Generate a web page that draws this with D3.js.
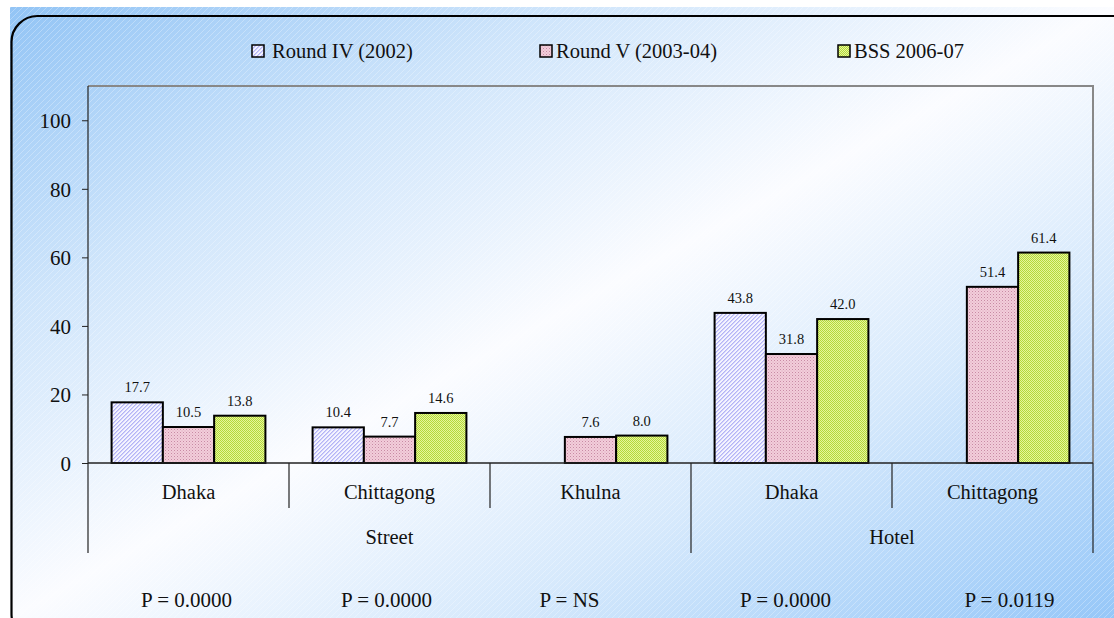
<!DOCTYPE html>
<html>
<head>
<meta charset="utf-8">
<script src="https://cdn.jsdelivr.net/npm/d3@7"></script>
<style>
  html, body { margin: 0; padding: 0; background: #ffffff; }
  svg { display: block; }
</style>
</head>
<body>
<svg id="chart" width="1114" height="618"></svg>
<script>
// ---------- data ----------
const cities = ["Dhaka", "Chittagong", "Khulna", "Dhaka", "Chittagong"];
const venues = ["Street", "Street", "Street", "Hotel", "Hotel"];
const seriesNames = ["Round IV (2002)", "Round V (2003-04)", "BSS 2006-07"];
const roundIV = [17.7, 10.4, null, 43.8, null];
const roundV = [10.5, 7.7, 7.6, 31.8, 51.4];
const bss = [13.8, 14.6, 8.0, 42.0, 61.4];
const pValues = ["P = 0.0000", "P = 0.0000", "P = NS", "P = 0.0000", "P = 0.0119"];
const yTicks = [0, 20, 40, 60, 80, 100];

// ---------- layout ----------
const W = 1114, H = 618;
const plot = { left: 88, right: 1093, top: 86, bottom: 463 };
const pLabelShift = [-2, -3, -21, -6, 17];
const SERIF = "Liberation Serif";

const svg = d3.select("#chart").attr("font-family", SERIF);
const defs = svg.append("defs");

// background gradient
const grad = defs.append("linearGradient").attr("id", "bg")
  .attr("x1", 0).attr("y1", 0).attr("x2", 1).attr("y2", 1);
grad.append("stop").attr("offset", 0).attr("stop-color", "#92c4f5");
grad.append("stop").attr("offset", 0.25).attr("stop-color", "#cfe5fb");
grad.append("stop").attr("offset", 0.5).attr("stop-color", "#fbfcff");
grad.append("stop").attr("offset", 0.72).attr("stop-color", "#d6e9fc");
grad.append("stop").attr("offset", 1).attr("stop-color", "#96c7f8");

// diagonal stripe texture
const st = defs.append("pattern").attr("id", "stripes").attr("patternUnits", "userSpaceOnUse")
  .attr("width", 6).attr("height", 6);
st.append("path").attr("d", "M0,6 L6,0 M-1,1 L1,-1 M5,7 L7,5")
  .attr("stroke", "#ffffff").attr("stroke-width", 0.8).attr("opacity", 0.35);

// bar patterns
const p1 = defs.append("pattern").attr("id", "pat0").attr("patternUnits", "userSpaceOnUse")
  .attr("width", 4).attr("height", 4);
p1.append("rect").attr("width", 4).attr("height", 4).attr("fill", "#f4f4ff");
[[0,3],[1,2],[2,1],[3,0],[1,3],[2,2],[3,1],[0,0]].forEach(([x, y], k) =>
  p1.append("rect").attr("x", x).attr("y", y).attr("width", 1).attr("height", 1)
    .attr("fill", k < 4 ? "#b4b4f6" : "#d0d0fa"));

const p2 = defs.append("pattern").attr("id", "pat1").attr("patternUnits", "userSpaceOnUse")
  .attr("width", 3).attr("height", 3);
p2.append("rect").attr("width", 3).attr("height", 3).attr("fill", "#f2cdda");
p2.append("rect").attr("x", 0).attr("y", 0).attr("width", 1).attr("height", 1).attr("fill", "#c88aa4");
p2.append("rect").attr("x", 1.5).attr("y", 1.5).attr("width", 1).attr("height", 1).attr("fill", "#dca6bc");

const p3 = defs.append("pattern").attr("id", "pat2").attr("patternUnits", "userSpaceOnUse")
  .attr("width", 2).attr("height", 2);
p3.append("rect").attr("width", 2).attr("height", 2).attr("fill", "#e6f79a");
p3.append("rect").attr("x", 0).attr("y", 0).attr("width", 1).attr("height", 1).attr("fill", "#b4d83c");
p3.append("rect").attr("x", 1).attr("y", 1).attr("width", 1).attr("height", 1).attr("fill", "#b4d83c");

// background + frame
svg.append("rect").attr("x", 10).attr("y", 7).attr("width", W - 10).attr("height", H - 7).attr("fill", "url(#bg)");
svg.append("rect").attr("x", 10).attr("y", 7).attr("width", W - 10).attr("height", H - 7).attr("fill", "url(#stripes)");
svg.append("rect").attr("x", 11.5).attr("y", 16).attr("width", 1130).attr("height", 624).attr("rx", 26)
  .attr("fill", "none").attr("stroke", "#000").attr("stroke-width", 2.2);

// ---------- scales ----------
const idx = d3.range(cities.length);
const x0 = d3.scaleBand().domain(idx).range([plot.left, plot.right]).paddingInner(0).paddingOuter(0);
const x1 = d3.scaleBand().domain(d3.range(seriesNames.length)).range([0, x0.bandwidth()])
  .paddingInner(0).paddingOuter(0.46);
const y = d3.scaleLinear().domain([0, 110]).range([plot.bottom, plot.top]);

// plot border (gray)
svg.append("path")
  .attr("d", `M${plot.left},${plot.top}H${plot.right}V${plot.bottom}`)
  .attr("fill", "none").attr("stroke", "#888").attr("stroke-width", 2);

// y axis
const yAxis = d3.axisLeft(y).tickValues(yTicks).tickSize(6).tickPadding(11).tickFormat(d3.format("d"));
const gy = svg.append("g").attr("transform", `translate(${plot.left},0)`).call(yAxis)
  .attr("font-family", SERIF).attr("font-size", 21);
gy.select(".domain").remove();
gy.selectAll(".tick line").attr("stroke", "#222").attr("stroke-width", 1);
gy.selectAll(".tick text").attr("fill", "#111").attr("dy", "0.35em");
svg.append("line").attr("x1", plot.left).attr("x2", plot.left).attr("y1", plot.top).attr("y2", plot.bottom + 90)
  .attr("stroke", "#222").attr("stroke-width", 1.2);

// bars
const series = [roundIV, roundV, bss];
const barData = [];
series.forEach((vals, s) => vals.forEach((v, i) => { if (v !== null) barData.push({ s, i, v }); }));

svg.append("g").selectAll("rect").data(barData).join("rect")
  .attr("x", d => x0(d.i) + x1(d.s))
  .attr("y", d => y(d.v))
  .attr("width", x1.bandwidth())
  .attr("height", d => y(0) - y(d.v))
  .attr("fill", d => `url(#pat${d.s})`)
  .attr("stroke", "#000").attr("stroke-width", 2);

svg.append("g").attr("font-family", SERIF).attr("font-size", 14.5).attr("fill", "#111")
  .selectAll("text").data(barData).join("text")
  .attr("x", d => x0(d.i) + x1(d.s) + x1.bandwidth() / 2)
  .attr("y", d => y(d.v) - 10)
  .attr("text-anchor", "middle")
  .text(d => d.v.toFixed(1));

// baseline
svg.append("line").attr("x1", plot.left).attr("x2", plot.right).attr("y1", y(0)).attr("y2", y(0))
  .attr("stroke", "#222").attr("stroke-width", 1.5);

// category dividers and labels
const gx = svg.append("g").attr("font-family", SERIF).attr("font-size", 20.5).attr("fill", "#111");
idx.forEach(i => {
  const xr = x0(i) + x0.bandwidth();
  const isGroupEnd = i === cities.length - 1 || venues[i] !== venues[i + 1];
  gx.append("line").attr("x1", xr).attr("x2", xr).attr("y1", y(0))
    .attr("y2", isGroupEnd ? y(0) + 90 : y(0) + 45)
    .attr("stroke", "#222").attr("stroke-width", 1.2);
});
gx.selectAll("text.cat").data(idx).join("text").attr("class", "cat")
  .attr("x", i => x0(i) + x0.bandwidth() / 2).attr("y", y(0) + 36)
  .attr("text-anchor", "middle")
  .text(i => cities[i]);

// venue group labels
const groupNames = Array.from(new Set(venues));
groupNames.forEach(g => {
  const members = idx.filter(i => venues[i] === g);
  const xa = x0(members[0]), xb = x0(members[members.length - 1]) + x0.bandwidth();
  gx.append("text").attr("x", (xa + xb) / 2).attr("y", y(0) + 81)
    .attr("text-anchor", "middle").text(g);
});

// p-values
svg.append("g").attr("font-family", SERIF).attr("font-size", 21).attr("fill", "#111")
  .selectAll("text").data(idx).join("text")
  .attr("x", i => x0(i) + x0.bandwidth() / 2 + pLabelShift[i]).attr("y", 607)
  .attr("text-anchor", "middle")
  .text(i => pValues[i]);

// legend
const legendX = [252, 540, 838];
const lg = svg.append("g").attr("font-family", SERIF).attr("font-size", 20.5).attr("fill", "#111");
seriesNames.forEach((n, s) => {
  const g = lg.append("g").attr("transform", `translate(${legendX[s]},45)`);
  g.append("rect").attr("x", 0).attr("y", 0).attr("width", 12).attr("height", 12)
    .attr("fill", `url(#pat${s})`).attr("stroke", "#000").attr("stroke-width", 1.5);
  g.append("text").attr("x", s === 0 ? 20 : 16).attr("y", 13).text(n);
});
</script>
</body>
</html>
